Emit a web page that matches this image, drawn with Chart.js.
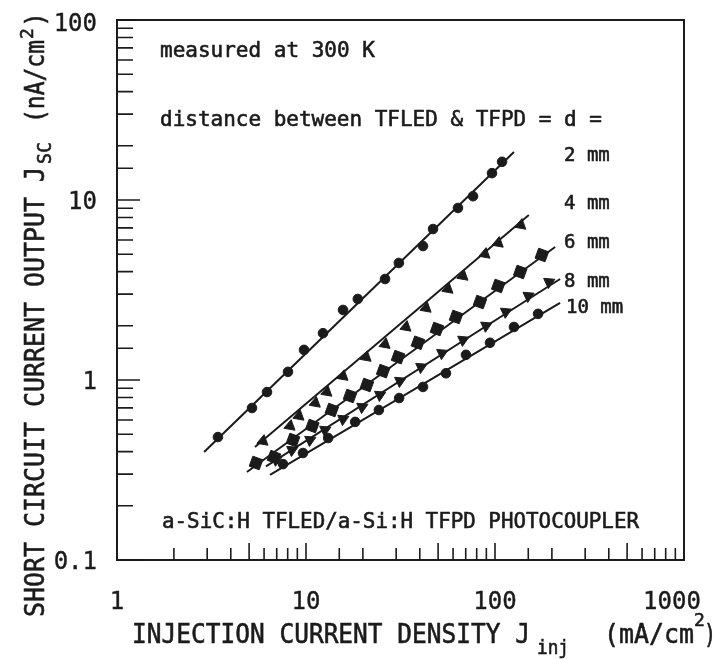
<!DOCTYPE html>
<html>
<head>
<meta charset="utf-8">
<script src="https://cdn.jsdelivr.net/npm/chart.js@4.4.1/dist/chart.umd.min.js"></script>
<style>
  html, body { margin: 0; padding: 0; background: #fff; }
  canvas { display: block; }
</style>
</head>
<body>
<canvas id="chart" width="717" height="659"></canvas>
<script>
// values (x: mA/cm2, y: nA/cm2)
const x2 = [3.42, 5.18, 6.22, 8.03, 9.76, 12.3, 15.7, 18.8, 26.2, 31.0, 41.6, 47.0, 63.7, 76.5, 96.4, 109];
const y2 = [0.482, 0.699, 0.857, 1.11, 1.47, 1.82, 2.45, 2.82, 3.64, 4.47, 5.55, 6.90, 9.03, 10.5, 14.1, 16.3];
const fit2X = [2.89, 126];
const fit2Y = [0.398, 18.5];

const x4 = [5.92, 8.23, 9.18, 11.2, 12.9, 15.7, 20.8, 26.2, 33.8, 43.2, 56.4, 67.7, 88.5, 104, 137];
const y4 = [0.458, 0.555, 0.631, 0.745, 0.857, 1.05, 1.34, 1.58, 1.97, 2.51, 3.20, 3.78, 5.01, 5.77, 7.26];
const fit4X = [5.37, 151];
const fit4Y = [0.425, 8.26];

const x6 = [5.44, 6.77, 8.54, 10.8, 13.7, 17.1, 21.0, 25.6, 30.7, 39.1, 49.3, 62.2, 83.3, 104, 136, 177];
const y6 = [0.346, 0.373, 0.464, 0.555, 0.681, 0.815, 0.938, 1.12, 1.34, 1.61, 1.92, 2.24, 2.71, 3.33, 3.98, 4.95];
const fit6X = [4.87, 208];
const fit6Y = [0.308, 5.48];

const x8 = [6.94, 8.43, 10.5, 12.6, 15.7, 19.8, 24.6, 31.4, 40.6, 52.4, 67.7, 89.6, 114, 150, 193];
const y8 = [0.360, 0.408, 0.464, 0.528, 0.607, 0.708, 0.826, 0.987, 1.18, 1.41, 1.67, 2.0, 2.39, 2.93, 3.50];
const fit8X = [6.14, 221];
const fit8Y = [0.331, 3.64];

const x10 = [7.56, 9.64, 13.1, 18.2, 24.3, 31.1, 41.6, 55.0, 70.2, 94.1, 126, 169];
const y10 = [0.341, 0.393, 0.476, 0.585, 0.681, 0.794, 0.915, 1.09, 1.38, 1.61, 1.97, 2.33];
const fit10X = [6.45, 221];
const fit10Y = [0.297, 2.68];

const xTickLabels = [1, 10, 100, 1000];
const yTickLabels = [0.1, 1, 10, 100];
const distanceLabels = ["2 mm", "4 mm", "6 mm", "8 mm", "10 mm"];

const ink = "#1b1b1b";
const mono = "'DejaVu Sans Mono', 'Liberation Mono', monospace";

const pts = (xs, ys) => xs.map((v, i) => ({ x: v, y: ys[i] }));

function fitLine(xs, ys) {
    return {
        data: pts(xs, ys),
        showLine: true,
        borderColor: ink,
        borderWidth: 2,
        pointRadius: 0,
    };
}

function marks(xs, ys, style, radius, rotation) {
    return {
        data: pts(xs, ys),
        showLine: false,
        pointStyle: style,
        pointRadius: radius,
        pointRotation: rotation || 0,
        backgroundColor: ink,
        borderColor: ink,
        borderWidth: 1,
    };
}

const isDecade = (v) => {
    const l = Math.log10(v);
    return Math.abs(l - Math.round(l)) < 1e-6;
};

// box, inward ticks, tick labels and the text inside / around the plot
const decorations = {
    id: "decorations",
    afterDraw(chart) {
        const { ctx, chartArea: a, scales } = chart;
        ctx.save();
        ctx.strokeStyle = ink;
        ctx.lineWidth = 2;
        ctx.strokeRect(a.left, a.top, a.right - a.left, a.bottom - a.top);

        ctx.lineWidth = 1.6;
        ctx.beginPath();
        scales.y.ticks.forEach((t) => {
            const p = scales.y.getPixelForValue(t.value);
            const len = isDecade(t.value) ? 23 : 16;
            ctx.moveTo(a.left, p);
            ctx.lineTo(a.left + len, p);
        });
        scales.x.ticks.forEach((t) => {
            const p = scales.x.getPixelForValue(t.value);
            const lead = Math.round(t.value / Math.pow(10, Math.floor(Math.log10(t.value) + 1e-9)));
            const len = isDecade(t.value) || lead === 5 ? 17 : 12;
            ctx.moveTo(p, a.bottom);
            ctx.lineTo(p, a.bottom - len);
        });
        ctx.stroke();

        ctx.fillStyle = ink;
        ctx.lineWidth = 0.6;
        ctx.textBaseline = "alphabetic";
        ctx.textAlign = "left";
        const put = (s, x, y, size, w) => {
            ctx.font = size + "px " + mono;
            if (w) {
                ctx.fillText(s, x, y, w);
                ctx.strokeText(s, x, y, w);
            } else {
                ctx.fillText(s, x, y);
                ctx.strokeText(s, x, y);
            }
        };

        // tick labels
        ctx.lineWidth = 0.4;
        ctx.textAlign = "right";
        yTickLabels.forEach((v) => {
            const p = scales.y.getPixelForValue(v);
            put(String(v), 97, Math.max(p, a.top + 2) + 9, 24, 44);
        });
        ctx.textAlign = "center";
        xTickLabels.forEach((v) => {
            const p = Math.min(scales.x.getPixelForValue(v), 672);
            put(String(v), p, 609, 24);
        });
        ctx.textAlign = "left";
        ctx.lineWidth = 0.6;

        put("measured at 300 K", 160, 57, 21);
        put("distance between TFLED & TFPD = d =", 160, 126, 21, 442);
        put("a-SiC:H TFLED/a-Si:H TFPD PHOTOCOUPLER", 162, 528, 21, 477);

        const labelY = [161, 209, 248, 287, 313];
        distanceLabels.forEach((s, i) => put(s, i === 4 ? 566 : 564, labelY[i], 19));

        // x axis title
        put("INJECTION CURRENT DENSITY J", 132, 643, 27, 398);
        put("inj", 537, 654, 20, 32);
        put("(mA/cm", 604, 643, 27, 90);
        put("2", 694, 626, 18);
        put(")", 704, 643, 27, 12);

        // y axis title
        ctx.translate(44, 617);
        ctx.rotate(-Math.PI / 2);
        put("SHORT CIRCUIT CURRENT OUTPUT J", 0, 0, 27, 450);
        put("SC", 453, 7, 19, 22);
        put("(nA/cm", 494, 0, 27, 83);
        put("2", 578, -11, 18);
        put(")", 590, 0, 27, 15);
        ctx.restore();
    },
};

new Chart(document.getElementById("chart"), {
    type: "scatter",
    data: {
        datasets: [
            fitLine(fit2X, fit2Y),
            fitLine(fit4X, fit4Y),
            fitLine(fit6X, fit6Y),
            fitLine(fit8X, fit8Y),
            fitLine(fit10X, fit10Y),
            marks(x2, y2, "circle", 4.8),
            marks(x4, y4, "triangle", 6.5, 250),
            marks(x6, y6, "rect", 7.5, 20),
            marks(x8, y8, "triangle", 6.5, 65),
            marks(x10, y10, "circle", 4.8),
        ],
    },
    options: {
        responsive: false,
        animation: false,
        layout: { padding: { left: 0, right: 33, top: 20, bottom: 0 } },
        plugins: {
            legend: { display: false },
            tooltip: { enabled: false },
        },
        scales: {
            x: {
                type: "logarithmic",
                min: 1,
                max: 1000,
                grid: { display: false, drawTicks: false },
                border: { display: false },
                ticks: { display: false, autoSkip: false },
                afterFit: (s) => { s.height = 99; },
            },
            y: {
                type: "logarithmic",
                min: 0.1,
                max: 100,
                grid: { display: false, drawTicks: false },
                border: { display: false },
                ticks: { display: false, autoSkip: false },
                afterFit: (s) => { s.width = 117; },
            },
        },
    },
    plugins: [decorations],
});
</script>
</body>
</html>
